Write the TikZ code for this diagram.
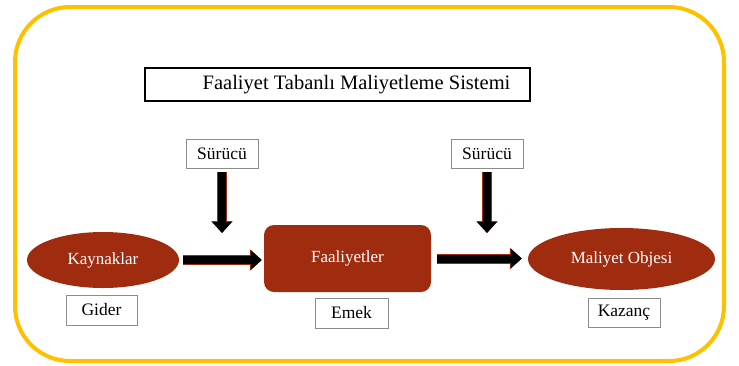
\documentclass[tikz,border=0pt]{standalone}
\usepackage{fontspec}
\setmainfont{Liberation Serif}
\usetikzlibrary{shapes.geometric, arrows.meta}

\definecolor{frameyellow}{RGB}{255,192,0}
\definecolor{brickred}{RGB}{160,44,16}

\tikzset{
  labelbox/.style={draw=black!45, line width=0.8pt, fill=white, minimum width=72pt, minimum height=29pt, inner sep=1pt, font=\fontsize{17.5}{19}\selectfont},
  ovalnode/.style={ellipse, fill=brickred, text=white, font=\fontsize{17}{19}\selectfont},
  blockarrow/.style={line width=8pt, draw=black, -{Triangle[width=19pt,length=11pt]},
    preaction={draw=brickred, line width=10pt, -{Triangle[width=21pt,length=12pt]}}}
}

\begin{document}
\begin{tikzpicture}[x=1pt,y=-1pt]
\useasboundingbox (0,0) rectangle (739,365);
\draw[frameyellow, line width=4pt, rounded corners=55pt] (15,7) rectangle (724,361);

% title
\node[draw, line width=1.6pt, minimum width=385pt, minimum height=33pt, font=\fontsize{20.5}{22}\selectfont] (title) at (337.5,84.5) {\hspace*{38pt}Faaliyet Tabanlı Maliyetleme Sistemi};

% main row
\node[ovalnode, minimum width=152pt, minimum height=56pt] (kaynak) at (103,260) {Kaynaklar};
\node[rectangle, rounded corners=10pt, fill=brickred, text=white, minimum width=167pt, minimum height=67pt, font=\fontsize{17}{19}\selectfont] (faal) at (347.5,258.5) {Faaliyetler};
\node[ovalnode, minimum width=187pt, minimum height=62pt] (objesi) at (621.5,259) {Maliyet Objesi};

% labels
\node[labelbox] (surucu1) at (222,153.5) {Sürücü};
\node[labelbox] (surucu2) at (487,153.5) {Sürücü};
\node[labelbox, minimum width=71pt, minimum height=30pt] (gider) at (101.5,310) {Gider};
\node[labelbox, minimum width=73pt, minimum height=30pt] (emek) at (351.5,313) {Emek};
\node[labelbox] (kazanc) at (624,312.5) {Kazanç};

\coordinate (drop1) at (222,233);
\coordinate (drop2) at (487,233);

% arrows
\draw[blockarrow, shorten <=4pt] (surucu1) -- (drop1);
\draw[blockarrow, shorten <=4pt] (surucu2) -- (drop2);
\draw[blockarrow, shorten <=4pt, shorten >=2pt] (kaynak) -- (faal.west |- kaynak);
\draw[blockarrow, shorten <=6pt, shorten >=6pt] (faal) -- (objesi.west |- faal);
\end{tikzpicture}
\end{document}
